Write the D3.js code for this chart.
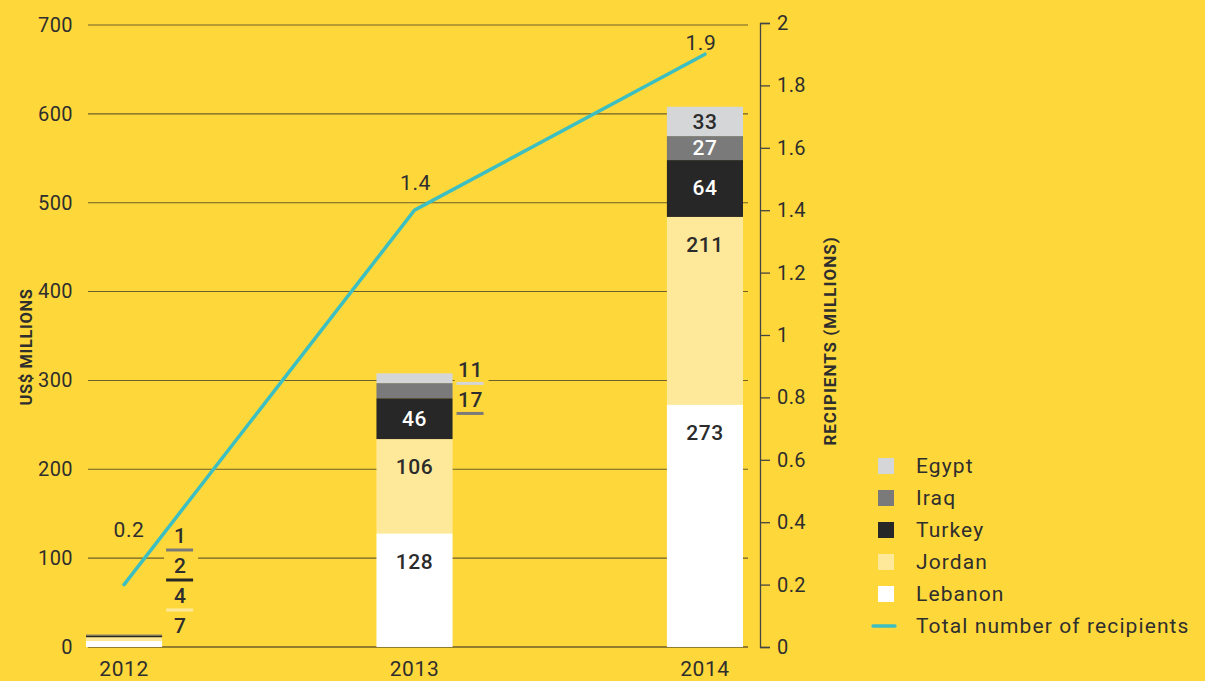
<!DOCTYPE html>
<html>
<head>
<meta charset="utf-8">
<script src="https://cdn.jsdelivr.net/npm/d3@7"></script>
<style>
  html, body { margin: 0; padding: 0; background: #fed83a; }
  svg { display: block; font-family: Roboto, "DejaVu Sans", sans-serif; }
</style>
</head>
<body>
<svg id="chart" width="1205" height="681"></svg>
<script>
// Funding by country (US$ millions), stacked bottom to top
const years = ["2012", "2013", "2014"];
const countries = ["Lebanon", "Jordan", "Turkey", "Iraq", "Egypt"];
const lebanon = [7, 128, 273];
const jordan  = [4, 106, 211];
const turkey  = [2, 46, 64];
const iraq    = [1, 17, 27];
const egypt   = [0, 11, 33];
// Total number of recipients (millions)
const recipients = [0.2, 1.4, 1.9];

const leftTicks = [0, 100, 200, 300, 400, 500, 600, 700];
const rightTicks = [0, 0.2, 0.4, 0.6, 0.8, 1, 1.2, 1.4, 1.6, 1.8, 2];

const colors = {
  Lebanon: "#ffffff",
  Jordan: "#fee89a",
  Turkey: "#272727",
  Iraq: "#7a7a7a",
  Egypt: "#d5d6d8"
};
const labelColors = { Lebanon: "#2b2b2b", Jordan: "#2b2b2b", Turkey: "#ffffff", Iraq: "#ffffff", Egypt: "#2b2b2b" };
const legendOrder = ["Egypt", "Iraq", "Turkey", "Jordan", "Lebanon"];
const lineColor = "#3dbfc1";
const textColor = "#2e2e2e";
const gridColor = "#6d5f27";

const seriesValues = { Lebanon: lebanon, Jordan: jordan, Turkey: turkey, Iraq: iraq, Egypt: egypt };
const table = years.map((y, i) => {
  const row = { year: y };
  countries.forEach(c => row[c] = seriesValues[c][i]);
  return row;
});

const svg = d3.select("#chart");
const plotLeft = 88, plotRight = 748, plotTop = 25, plotBottom = 647;

const x = d3.scaleBand().domain(years).range([86, 743]).paddingInner(0.738).paddingOuter(0);
const y = d3.scaleLinear().domain([0, 700]).range([plotBottom, plotTop]);
const y2 = d3.scaleLinear().domain([0, 2]).range([plotBottom, 23]);

// gridlines
svg.append("g").selectAll("line").data(leftTicks).join("line")
  .attr("x1", plotLeft).attr("x2", plotRight)
  .attr("y1", d => y(d)).attr("y2", d => y(d))
  .attr("stroke", gridColor).attr("stroke-width", d => d === 0 ? 1.4 : 1.1);

// left axis labels
const leftAxis = svg.append("g").attr("transform", `translate(${plotLeft - 15},0)`)
  .call(d3.axisLeft(y).tickValues(leftTicks).tickSize(0).tickPadding(0).tickFormat(d3.format("d")));
leftAxis.select(".domain").remove();
leftAxis.selectAll("text").attr("font-size", 20).attr("letter-spacing", 0.4)
  .attr("fill", textColor).attr("font-family", "Roboto, sans-serif");

// right axis
const rightAxis = svg.append("g").attr("transform", "translate(760,0)")
  .call(d3.axisRight(y2).tickValues(rightTicks).tickSize(10).tickSizeOuter(10).tickPadding(7)
    .tickFormat(d => d3.format("~g")(d)));
rightAxis.select(".domain").attr("stroke", "#444").attr("stroke-width", 1.3);
rightAxis.selectAll(".tick line").attr("stroke", "#444").attr("stroke-width", 1.3);
rightAxis.selectAll("text").attr("font-size", 20).attr("letter-spacing", 0.4)
  .attr("fill", textColor).attr("font-family", "Roboto, sans-serif");

// axis titles
svg.append("text").attr("transform", "translate(26,347) rotate(-90)")
  .attr("text-anchor", "middle").attr("font-size", 16.5).attr("font-weight", 700)
  .attr("letter-spacing", 0.6).attr("dy", "0.35em")
  .attr("fill", textColor).text("US$ MILLIONS");
svg.append("text").attr("transform", "translate(830,341) rotate(-90)")
  .attr("text-anchor", "middle").attr("font-size", 17).attr("font-weight", 700)
  .attr("letter-spacing", 1).attr("dy", "0.35em")
  .attr("fill", textColor).text("RECIPIENTS (MILLIONS)");

// year labels
svg.append("g").selectAll("text").data(years).join("text")
  .attr("x", d => x(d) + x.bandwidth() / 2).attr("y", 676)
  .attr("text-anchor", "middle").attr("font-size", 21).attr("letter-spacing", 0.6)
  .attr("fill", textColor).text(d => d);

// stacked bars
const stack = d3.stack().keys(countries)(table);
const segs = [];
stack.forEach(layer => {
  layer.forEach((d, i) => {
    segs.push({ country: layer.key, year: years[i], v: d[1] - d[0], y0: d[0], y1: d[1] });
  });
});

svg.append("g").selectAll("rect").data(segs.filter(s => s.v > 0)).join("rect")
  .attr("x", d => x(d.year)).attr("width", x.bandwidth())
  .attr("y", d => y(d.y1)).attr("height", d => y(d.y0) - y(d.y1))
  .attr("fill", d => colors[d.country]);

// value labels inside tall segments
const inside = segs.filter(s => s.v > 0 && (y(s.y0) - y(s.y1)) >= 20);
svg.append("g").selectAll("text").data(inside).join("text")
  .attr("x", d => x(d.year) + x.bandwidth() / 2)
  .attr("y", d => {
    const top = y(d.y1), h = y(d.y0) - y(d.y1);
    return top + Math.min(h / 2, 28);
  })
  .attr("dy", "0.35em").attr("text-anchor", "middle")
  .attr("font-size", 21).attr("font-weight", 500).attr("letter-spacing", 0.5)
  .attr("fill", d => labelColors[d.country]).text(d => d.v);

// labels for thin segments, stacked beside the bar with a colour rule underneath
years.forEach(yr => {
  const small = segs.filter(s => s.year === yr && s.v > 0 && (y(s.y0) - y(s.y1)) < 20)
    .sort((a, b) => b.y1 - a.y1);
  if (!small.length) return;
  const step = 30;
  const meanC = d3.mean(small, s => (y(s.y0) + y(s.y1)) / 2);
  let first = meanC - (small.length - 1) * step / 2;
  const last = first + (small.length - 1) * step;
  const maxLast = plotBottom - 21;
  if (last > maxLast) first -= (last - maxLast);
  const bx = x(yr) + x.bandwidth();
  const g = svg.append("g");
  g.append("rect").attr("x", bx + 2).attr("width", 34)
    .attr("y", first - 14).attr("height", (small.length - 1) * step + 30)
    .attr("fill", "#fed83a");
  small.forEach((s, k) => {
    const cy = first + k * step;
    g.append("text").attr("x", bx + 18).attr("y", cy).attr("dy", "0.35em")
      .attr("text-anchor", "middle").attr("font-size", 21).attr("font-weight", 500)
      .attr("letter-spacing", 0.5)
      .attr("fill", textColor).text(s.v);
    if (s.country !== "Lebanon") {
      g.append("line").attr("x1", bx + 4).attr("x2", bx + 31)
        .attr("y1", cy + 14).attr("y2", cy + 14)
        .attr("stroke", colors[s.country]).attr("stroke-width", 3);
    }
  });
});

// recipients line
const pts = years.map((yr, i) => ({ yr, v: recipients[i] }));
svg.append("path").datum(pts)
  .attr("fill", "none").attr("stroke", lineColor).attr("stroke-width", 3.5)
  .attr("stroke-linecap", "round")
  .attr("d", d3.line().x(d => x(d.yr) + x.bandwidth() / 2).y(d => y2(d.v)));
svg.append("g").selectAll("text").data(pts).join("text")
  .attr("x", d => x(d.yr) + x.bandwidth() / 2 + (d.yr === "2012" ? 5 : d.yr === "2014" ? -4 : 1))
  .attr("y", d => y2(d.v) - (d.yr === "2012" ? 55 : d.yr === "2014" ? 12 : 28))
  .attr("dy", "0.35em").attr("text-anchor", "middle")
  .attr("font-size", 21).attr("letter-spacing", 0.6).attr("fill", textColor)
  .text(d => d3.format(".1f")(d.v));

// legend
const lg = svg.append("g").attr("transform", "translate(878,0)");
legendOrder.forEach((c, i) => {
  const cy = 466 + i * 32;
  lg.append("rect").attr("x", 0).attr("y", cy - 8).attr("width", 16).attr("height", 16).attr("fill", colors[c]);
  lg.append("text").attr("x", 38).attr("y", cy).attr("dy", "0.35em")
    .attr("font-size", 21).attr("letter-spacing", 1.1).attr("fill", textColor).text(c);
});
lg.append("line").attr("x1", -5).attr("x2", 17).attr("y1", 626).attr("y2", 626)
  .attr("stroke", lineColor).attr("stroke-width", 3.5).attr("stroke-linecap", "round");
lg.append("text").attr("x", 38).attr("y", 626).attr("dy", "0.35em")
  .attr("font-size", 21).attr("letter-spacing", 1.1).attr("fill", textColor).text("Total number of recipients");
</script>
</body>
</html>
